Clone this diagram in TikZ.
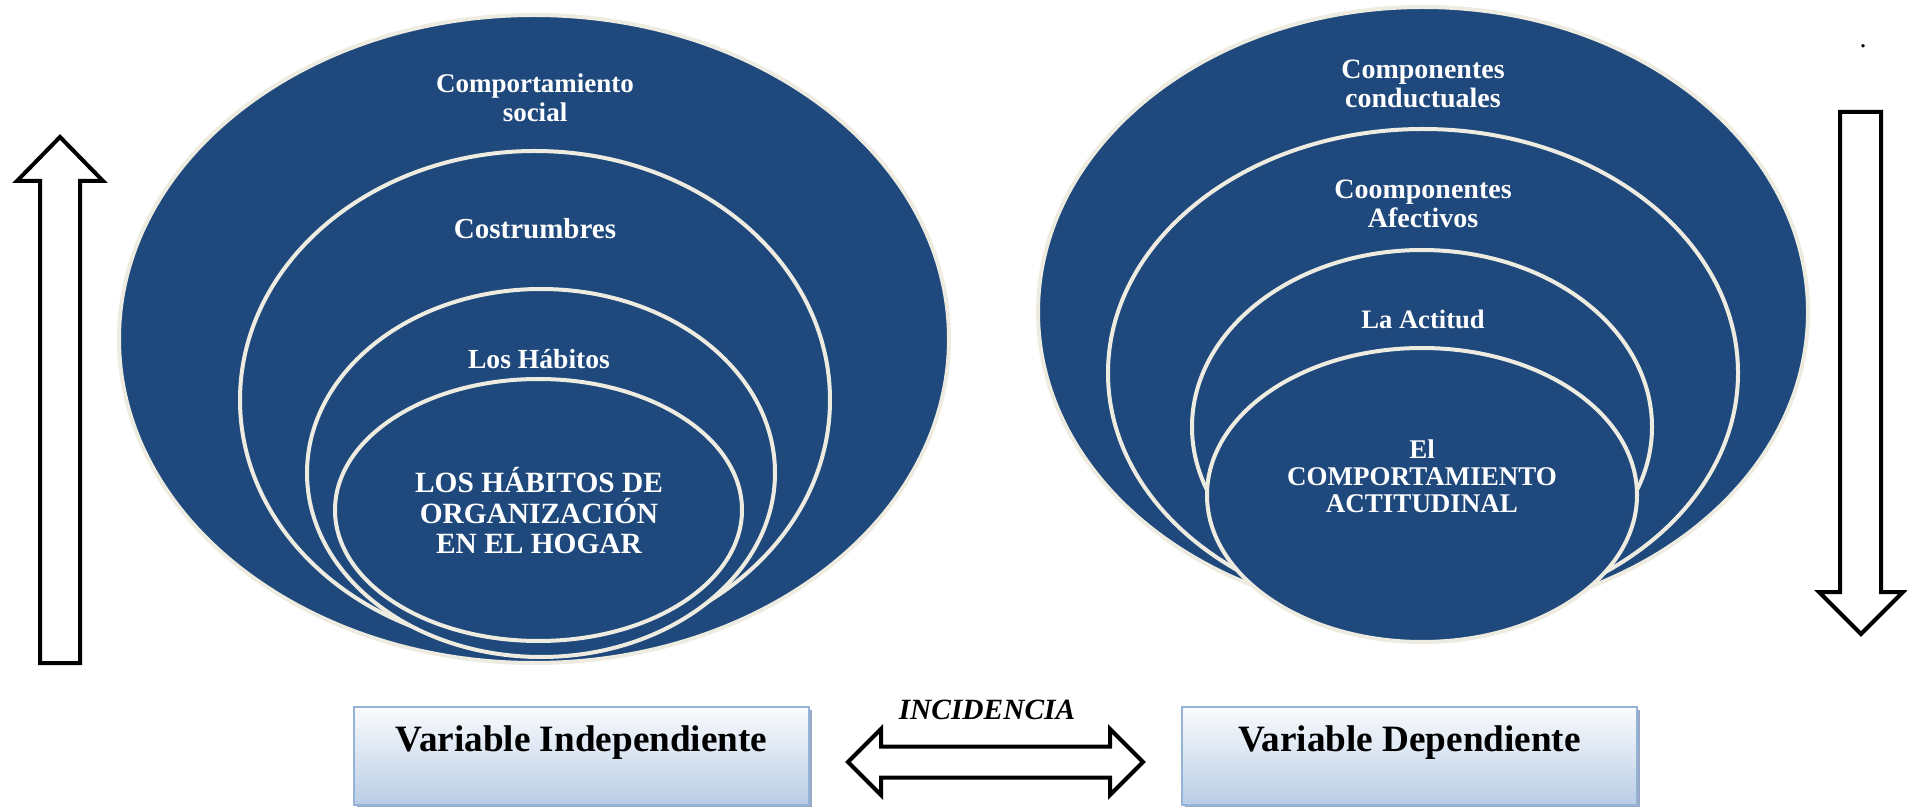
\documentclass[tikz,border=0pt]{standalone}
\usepackage{fontspec}
\setmainfont{Liberation Serif}
\usetikzlibrary{shapes.geometric,shadows}
\definecolor{ovblue}{RGB}{31,73,125}
\definecolor{ovedge}{RGB}{238,236,225}
\definecolor{boxedge}{RGB}{149,179,215}
\definecolor{boxbot}{RGB}{185,205,229}
\definecolor{boxtop}{RGB}{250,251,253}
\definecolor{boxshade}{RGB}{140,160,190}
\begin{document}
\begin{tikzpicture}[x=0.5pt,y=-0.5pt,
  ov/.style={ellipse, fill=ovblue, draw=ovedge, line width=2pt, inner sep=0pt, outer sep=0pt},
  ovtext/.style={text=white, align=center, font=\fontsize{14}{14.5}\selectfont\bfseries, inner sep=0pt},
  varbox/.style={rectangle, draw=boxedge, line width=1.2pt, top color=boxtop, bottom color=boxbot,
    minimum width=227.5pt, minimum height=49pt, inner sep=0pt,
    drop shadow={shadow xshift=1.5pt, shadow yshift=-1.5pt, fill=boxshade, opacity=0.9}},
  vartext/.style={font=\fontsize{18.6}{20}\selectfont\bfseries, inner sep=0pt},
  blockarrow/.style={draw=black, fill=white, line width=2pt, line join=miter}
]
\useasboundingbox (0,0) rectangle (1907,807);

% left nested ellipses
\node[ov, minimum width=415pt, minimum height=324pt] (L1) at (534,339) {};
\node[ov, minimum width=295pt, minimum height=249pt] (L2) at (535,400) {};
\node[ov, minimum width=234pt, minimum height=184pt] (L3) at (541,473) {};
\node[ov, minimum width=203.5pt, minimum height=131pt] (L4) at (538.5,510) {};

% right nested ellipses
\node[ov, minimum width=385pt, minimum height=305pt] (R1) at (1423,312) {};
\node[ov, minimum width=315pt, minimum height=244pt] (R2) at (1423,373) {};
\node[ov, minimum width=230pt, minimum height=177pt] (R3) at (1422,427) {};
\node[ov, minimum width=215pt, minimum height=147pt] (R4) at (1422,495) {};

% texts left
\node[ovtext, font=\fontsize{13.5}{14.5}\selectfont\bfseries] (t1) at (535,98) {Comportamiento\\social};
\node[ovtext, font=\fontsize{14.5}{15}\selectfont\bfseries] (t2) at (535,229) {Costrumbres};
\node[ovtext, font=\fontsize{13.8}{14.5}\selectfont\bfseries] (t3) at (539,359) {Los Hábitos};
\node[ovtext, font=\fontsize{14.7}{15.25}\selectfont\bfseries] (t4) at (539,511) {LOS HÁBITOS DE\\ORGANIZACIÓN\\EN EL HOGAR};

% texts right
\node[ovtext] (u1) at (1423,84) {Componentes\\conductuales};
\node[ovtext] (u2) at (1423,204) {Coomponentes\\Afectivos};
\node[ovtext, font=\fontsize{13.3}{14}\selectfont\bfseries] (u3) at (1423,319) {La Actitud};
\node[ovtext, font=\fontsize{13.5}{13.5}\selectfont\bfseries] (u4) at (1422,476) {El\\COMPORTAMIENTO\\ACTITUDINAL};

% vertical block arrows
\draw[blockarrow] (60,137) -- (103,181) -- (80,181) -- (80,663) -- (40,663) -- (40,181) -- (17,181) -- cycle;
\draw[blockarrow] (1840,112) -- (1881,112) -- (1881,592) -- (1903,592) -- (1861,634) -- (1819,592) -- (1840,592) -- cycle;

% small dot
\node[font=\fontsize{14}{14}\selectfont, inner sep=0pt] (dot) at (1863,46) {.};

% bottom boxes
\node[varbox] (vi) at (581.5,756) {};
\node[vartext] (vit) at (581.5,743) {Variable Independiente};
\node[varbox] (vd) at (1409.5,756) {};
\node[vartext] (vdt) at (1409.5,743) {Variable Dependiente};

% double arrow
\coordinate (dl) at (848,762);
\coordinate (dr) at (1143,762);
\draw[blockarrow] (dl) -- (881,729) -- (881,746.5) -- (1110,746.5) -- (1110,729) -- (dr)
  -- (1110,795) -- (1110,777.5) -- (881,777.5) -- (881,795) -- cycle;
\node[font=\fontsize{14.7}{15}\selectfont\bfseries\itshape, inner sep=0pt] (inc) at (987,710) {INCIDENCIA};
\end{tikzpicture}
\end{document}
